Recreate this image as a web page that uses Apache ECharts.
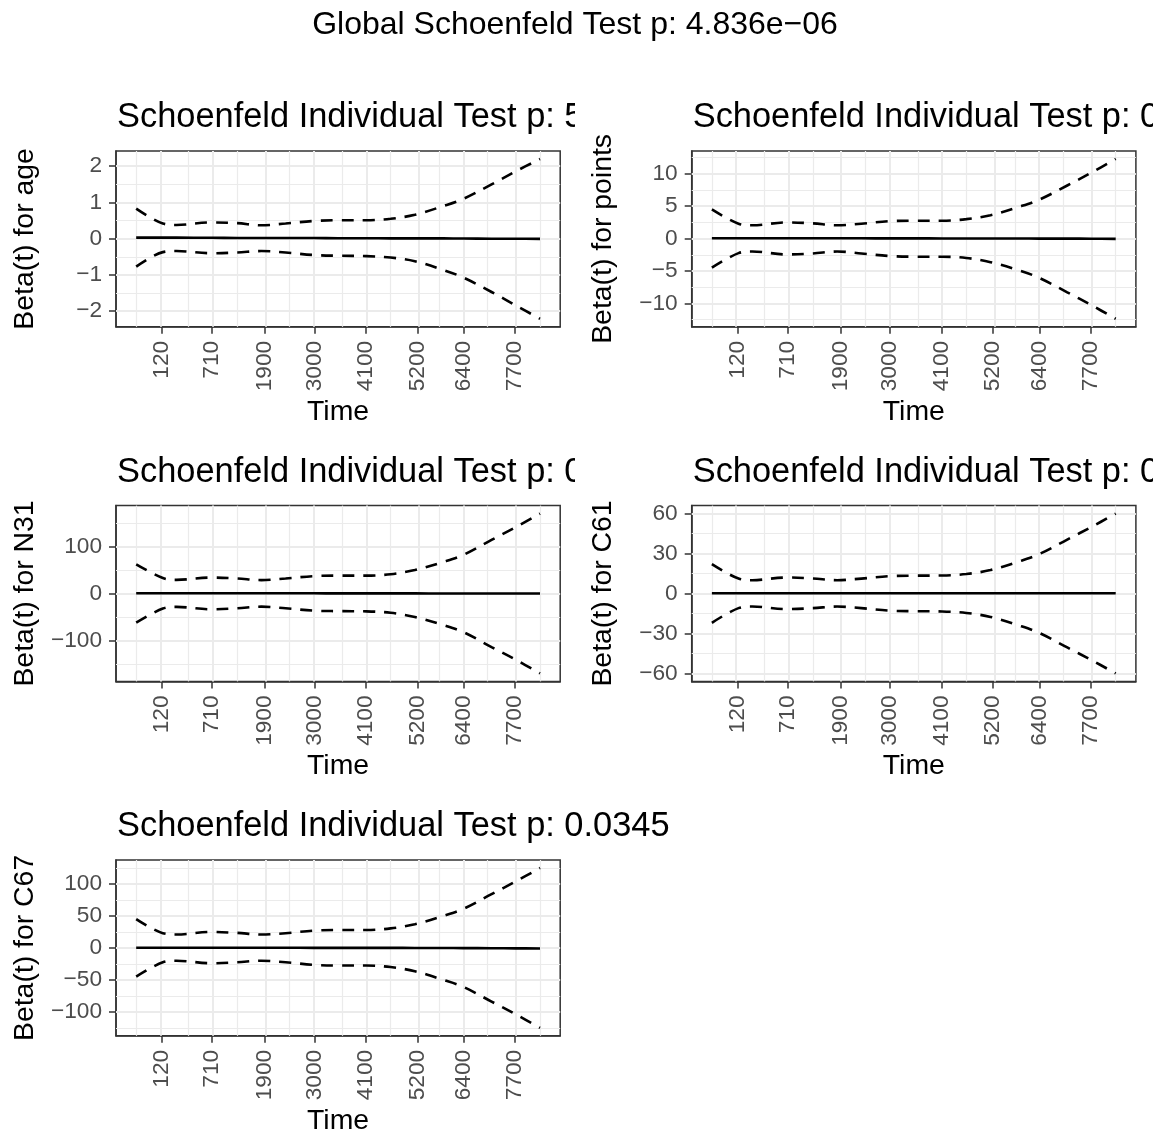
<!DOCTYPE html>
<html><head><meta charset="utf-8">
<script src="https://cdn.jsdelivr.net/npm/echarts@6/dist/echarts.min.js"></script>
<style>html,body{margin:0;padding:0;background:#fff}#c{width:1163px;height:1137px}</style>
</head><body><div id="c"></div>
<script>
// ---- data ----
const globalTitle = 'Global Schoenfeld Test p: 4.836e\u221206';
const timeTickPos = [0.0636, 0.1874, 0.319, 0.4416, 0.569, 0.6965, 0.811, 0.938];
const timeTickLabels = ['120', '710', '1900', '3000', '4100', '5200', '6400', '7700'];
const smoothX = [0, 0.066, 0.10, 0.185, 0.25, 0.31, 0.37, 0.44, 0.50, 0.57, 0.63, 0.69, 0.76, 0.81, 0.88, 0.94, 1.0];

const ageBeta  = [0.03, 0.03, 0.03, 0.025, 0.02, 0.02, 0.02, 0.02, 0.015, 0.015, 0.01, 0.01, 0.01, 0.005, 0.0, 0.0, -0.005];
const ageUpper = [0.83, 0.42, 0.38, 0.45, 0.43, 0.37, 0.42, 0.49, 0.51, 0.51, 0.55, 0.66, 0.90, 1.10, 1.50, 1.86, 2.20];
const ageLower = [-0.77, -0.37, -0.34, -0.40, -0.38, -0.34, -0.38, -0.45, -0.47, -0.48, -0.52, -0.62, -0.86, -1.07, -1.47, -1.84, -2.21];
const ageTicks = [-2, -1, 0, 1, 2];

const pointsBeta  = [0.05, 0.05, 0.05, 0.05, 0.05, 0.04, 0.04, 0.03, 0.03, 0.02, 0.02, 0.02, 0.01, 0.0, 0.0, -0.02, -0.05];
const pointsUpper = [4.5, 2.3, 2.05, 2.5, 2.35, 2.05, 2.3, 2.7, 2.75, 2.75, 3.0, 3.6, 4.9, 6.0, 8.2, 10.2, 12.3];
const pointsLower = [-4.5, -2.25, -2.0, -2.45, -2.3, -2.0, -2.3, -2.7, -2.8, -2.8, -3.0, -3.65, -4.9, -6.05, -8.3, -10.3, -12.4];
const pointsTicks = [-10, -5, 0, 5, 10];

const n31Beta  = [0.5, 0.5, 0.5, 0.5, 0.5, 0.5, 0.4, 0.4, 0.3, 0.3, 0.2, 0.2, 0.1, 0.1, 0, 0, 0];
const n31Upper = [62, 33, 29, 34, 32, 28.5, 32, 37, 38, 38, 41, 50, 67, 82, 114, 141, 170];
const n31Lower = [-62, -32, -28.5, -33.5, -31.5, -28, -31.5, -36.5, -37.5, -38, -41, -50, -67, -82, -114, -141, -170];
const n31Ticks = [-100, 0, 100];

const c61Beta  = [0.2, 0.2, 0.2, 0.2, 0.2, 0.2, 0.2, 0.2, 0.2, 0.2, 0.2, 0.2, 0.2, 0.2, 0.2, 0.2, 0.2];
const c61Upper = [22, 11.2, 10, 12, 11.3, 10, 11.2, 13, 13.4, 13.5, 14.6, 17.6, 24, 29.5, 40.5, 50, 60];
const c61Lower = [-22, -11, -9.8, -11.7, -11, -9.8, -11, -12.9, -13.3, -13.5, -14.6, -17.6, -24, -29.5, -40.5, -50, -60];
const c61Ticks = [-60, -30, 0, 30, 60];

const c67Beta  = [0.3, 0.3, 0.3, 0.3, 0.2, 0.2, 0.2, 0.1, 0.1, 0, 0, -0.1, -0.2, -0.3, -0.5, -0.7, -0.9];
const c67Upper = [45, 23, 21, 25, 23.5, 21, 23, 27, 28, 28, 30.5, 37, 50, 61, 84, 104, 125];
const c67Lower = [-45, -22.5, -20, -24, -22.5, -20, -22.5, -26.5, -27.5, -27.5, -30, -36.5, -50, -61, -84, -104, -125];
const c67Ticks = [-100, -50, 0, 50, 100];

const panelTitles = ['Schoenfeld Individual Test p: 5', 'Schoenfeld Individual Test p: 0',
  'Schoenfeld Individual Test p: 0', 'Schoenfeld Individual Test p: 0', 'Schoenfeld Individual Test p: 0.0345'];
const yTitles = ['Beta(t) for age', 'Beta(t) for points', 'Beta(t) for N31', 'Beta(t) for C61', 'Beta(t) for C67'];
const xTitle = 'Time';

// ---- layout / style ----
const FONT = "'Liberation Sans', Arial, Helvetica, sans-serif";
const colLeft = [116, 691.7], rowTop = [151, 505.6, 860];
const panelW = 444.2, panelH = 175.8;
const yTitleX = [25, 603.3];
const clipX = [575, 1153];

const panels = [
  {beta: ageBeta, upper: ageUpper, lower: ageLower, ticks: ageTicks, col: 0, row: 0},
  {beta: pointsBeta, upper: pointsUpper, lower: pointsLower, ticks: pointsTicks, col: 1, row: 0},
  {beta: n31Beta, upper: n31Upper, lower: n31Lower, ticks: n31Ticks, col: 0, row: 1},
  {beta: c61Beta, upper: c61Upper, lower: c61Lower, ticks: c61Ticks, col: 1, row: 1},
  {beta: c67Beta, upper: c67Upper, lower: c67Lower, ticks: c67Ticks, col: 0, row: 2}
];

function fmtNum(v) { return v < 0 ? '\u2212' + Math.abs(v) : String(v); }
function timeLabel(v) {
  const i = timeTickPos.findIndex(t => Math.abs(t - v) < 1e-6);
  return i >= 0 ? timeTickLabels[i] : '';
}
function pairs(xs, ys) { return xs.map((x, i) => [x, ys[i]]); }

const grids = [], xAxes = [], yAxes = [], series = [], graphics = [];
const xr = smoothX[smoothX.length - 1] - smoothX[0];
const xmin = smoothX[0] - 0.05 * xr, xmax = smoothX[smoothX.length - 1] + 0.05 * xr;

// x minor gridlines (ggplot style: midpoints, extended one step beyond)
const xMinor = [timeTickPos[0] - (timeTickPos[1] - timeTickPos[0]) / 2];
for (let k = 0; k < timeTickPos.length - 1; k++) xMinor.push((timeTickPos[k] + timeTickPos[k + 1]) / 2);
const nT = timeTickPos.length;
xMinor.push(timeTickPos[nT - 1] + (timeTickPos[nT - 1] - timeTickPos[nT - 2]) / 2);

const axisDark = {color: '#333333', width: 1.5};

panels.forEach((p, i) => {
  const left = colLeft[p.col], top = rowTop[p.row];
  grids.push({left: left, top: top, width: panelW, height: panelH, show: true,
    borderColor: '#333333', borderWidth: 1.5, backgroundColor: '#ffffff'});
  const all = p.upper.concat(p.lower, p.beta);
  const dmin = Math.min(...all), dmax = Math.max(...all), r = dmax - dmin;
  const ymin = dmin - 0.05 * r, ymax = dmax + 0.05 * r;

  xAxes.push({type: 'value', gridIndex: i, min: xmin, max: xmax,
    axisLine: {show: true, onZero: false, lineStyle: axisDark}, splitLine: {show: false},
    axisTick: {show: true, customValues: timeTickPos, length: 7, lineStyle: axisDark},
    axisLabel: {show: true, customValues: timeTickPos, rotate: 90, margin: 14, fontSize: 22.7,
      color: '#4D4D4D', fontFamily: FONT, formatter: v => timeLabel(v)}});
  yAxes.push({type: 'value', gridIndex: i, min: ymin, max: ymax,
    axisLine: {show: true, onZero: false, lineStyle: axisDark}, splitLine: {show: false},
    axisTick: {show: true, customValues: p.ticks, length: 7, lineStyle: axisDark},
    axisLabel: {show: true, customValues: p.ticks, margin: 14, fontSize: 22.7,
      color: '#4D4D4D', fontFamily: FONT, formatter: v => fmtNum(v)}});

  // gridlines
  const step = p.ticks[1] - p.ticks[0];
  const yMinor = [];
  for (let v = p.ticks[0] - step / 2; v <= p.ticks[p.ticks.length - 1] + step / 2 + 1e-9; v += step) {
    if (v > ymin && v < ymax) yMinor.push(v);
  }
  const ml = [];
  xMinor.forEach(v => ml.push({xAxis: v, lineStyle: {color: '#EBEBEB', width: 1.2, type: 'solid'}}));
  yMinor.forEach(v => ml.push({yAxis: v, lineStyle: {color: '#EBEBEB', width: 1.2, type: 'solid'}}));
  timeTickPos.forEach(v => ml.push({xAxis: v, lineStyle: {color: '#EBEBEB', width: 2, type: 'solid'}}));
  p.ticks.forEach(v => ml.push({yAxis: v, lineStyle: {color: '#EBEBEB', width: 2, type: 'solid'}}));
  series.push({type: 'line', xAxisIndex: i, yAxisIndex: i, data: [], z: 1, silent: true,
    markLine: {silent: true, z: 1, symbol: ['none', 'none'], animation: false, label: {show: false},
      emphasis: {disabled: true}, data: ml}});

  const lineCommon = {type: 'line', xAxisIndex: i, yAxisIndex: i, showSymbol: false, symbol: 'none',
    smooth: 0.35, silent: true, z: 10, animation: false};
  series.push(Object.assign({}, lineCommon, {data: pairs(smoothX, p.beta),
    lineStyle: {color: '#000000', width: 2.6, type: 'solid'}}));
  series.push(Object.assign({}, lineCommon, {data: pairs(smoothX, p.upper),
    lineStyle: {color: '#000000', width: 2.6, type: [12, 9], cap: 'butt'}}));
  series.push(Object.assign({}, lineCommon, {data: pairs(smoothX, p.lower),
    lineStyle: {color: '#000000', width: 2.6, type: [12, 9], cap: 'butt'}}));

  // texts
  graphics.push({type: 'text', x: left + 1, y: top - 33, z: 10,
    style: {text: panelTitles[i], fill: '#000', fontSize: 34.4, fontFamily: FONT,
      align: 'left', verticalAlign: 'middle', textAlign: 'left', textVerticalAlign: 'middle'}});
  graphics.push({type: 'text', x: left + panelW / 2, y: top + panelH + 85, z: 10,
    style: {text: xTitle, fill: '#000', fontSize: 28.4, fontFamily: FONT,
      align: 'center', verticalAlign: 'middle', textAlign: 'center', textVerticalAlign: 'middle'}});
  graphics.push({type: 'text', x: yTitleX[p.col], y: top + panelH / 2, rotation: Math.PI / 2, z: 12,
    style: {text: yTitles[i], fill: '#000', fontSize: 28.4, fontFamily: FONT,
      align: 'center', verticalAlign: 'middle', textAlign: 'center', textVerticalAlign: 'middle'}});
});

// clip panel titles at their cell edges
[0, 1].forEach(row => {
  const ty = rowTop[row] - 62;
  graphics.push({type: 'rect', z: 11, shape: {x: clipX[0], y: ty, width: 115, height: 50}, style: {fill: '#ffffff'}});
  graphics.push({type: 'rect', z: 11, shape: {x: clipX[1], y: ty, width: 20, height: 50}, style: {fill: '#ffffff'}});
});
graphics.push({type: 'text', x: 575, y: 25, z: 10,
  style: {text: globalTitle, fill: '#000', fontSize: 32, fontFamily: FONT,
    align: 'center', verticalAlign: 'middle', textAlign: 'center', textVerticalAlign: 'middle'}});

const chart = echarts.init(document.getElementById('c'), null, {renderer: 'canvas'});
chart.setOption({
  animation: false,
  backgroundColor: '#ffffff',
  grid: grids, xAxis: xAxes, yAxis: yAxes, series: series,
  graphic: {elements: graphics}
});
</script></body></html>
